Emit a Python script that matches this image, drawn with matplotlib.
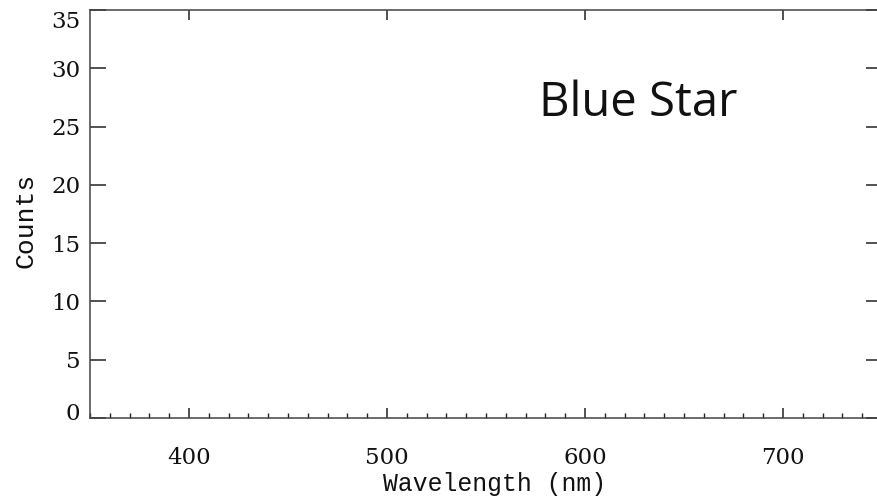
import matplotlib
matplotlib.use("Agg")
import matplotlib.pyplot as plt
import matplotlib.transforms as mtransforms
from matplotlib.ticker import MultipleLocator

# Axis ranges and ticks (empty spectrum panel)
x_range = [350, 750]
y_range = [0, 35]
x_major = [400, 500, 600, 700]
y_major = [0, 5, 10, 15, 20, 25, 30, 35]
x_label = "Wavelength (nm)"
y_label = "Counts"
panel_text = "Blue Star"
text_pos = [577, 25.9]

fig = plt.figure(figsize=(8.78, 5.01), dpi=100, facecolor="white")
# axes run slightly past the right edge, as in the original crop
ax = fig.add_axes([90 / 878, 1 - 418 / 501, 792 / 878, 408 / 501])

ax.set_xlim(x_range)
ax.set_ylim(y_range)
ax.set_xticks(x_major)
ax.set_yticks(y_major)
ax.xaxis.set_minor_locator(MultipleLocator(10))

for s in ax.spines.values():
    s.set_color("#444444")
    s.set_linewidth(1.1)

ax.tick_params(axis="x", which="major", direction="in", length=7, width=1.1,
               top=True, bottom=True, pad=21, color="#222222")
ax.tick_params(axis="x", which="minor", direction="in", length=3.5, width=1.0,
               top=False, bottom=True, color="#222222")
ax.tick_params(axis="y", which="major", direction="in", length=11.5, width=1.1,
               left=True, right=True, pad=7, color="#222222")

for lab in ax.get_xticklabels() + ax.get_yticklabels():
    lab.set_fontfamily("DejaVu Serif")
    lab.set_fontsize(16.5)
    lab.set_color("#111111")

# IDL-style nudge of end labels to stay inside the frame
ylabs = ax.get_yticklabels()
ylabs[0].set_transform(ylabs[0].get_transform() +
                       mtransforms.ScaledTranslation(0, 7 / 100, fig.dpi_scale_trans))
ylabs[-1].set_transform(ylabs[-1].get_transform() +
                        mtransforms.ScaledTranslation(0, -9 / 100, fig.dpi_scale_trans))

ax.set_xlabel(x_label, family="Liberation Mono", fontsize=17.8, color="#111111")
ax.xaxis.set_label_coords(0.511, -0.133)
ax.set_ylabel(y_label, family="Liberation Mono", fontsize=19, color="#111111")
ax.yaxis.set_label_coords(-0.066, 0.485)

ax.text(text_pos[0], text_pos[1], panel_text, family="Open Sans", fontsize=34,
        color="#111111", ha="left", va="baseline")

fig.savefig("out.png", dpi=100, facecolor="white")
